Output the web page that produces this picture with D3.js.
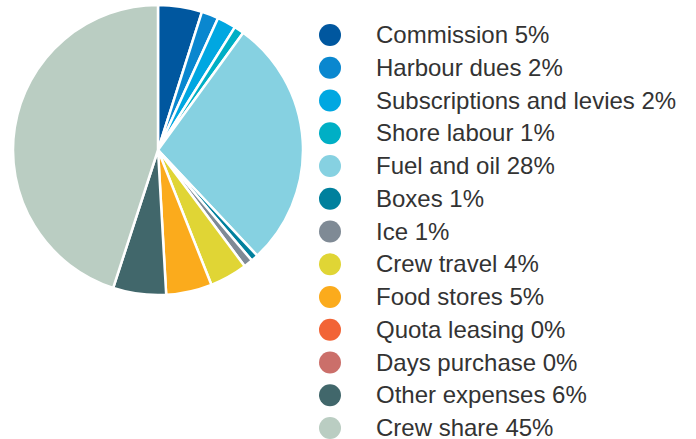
<!DOCTYPE html>
<html><head><meta charset="utf-8">
<script src="https://cdn.jsdelivr.net/npm/d3@7"></script>
<style>body{margin:0;background:#fff}svg{display:block}</style>
</head><body>
<script>
const categories = ["Commission","Harbour dues","Subscriptions and levies","Shore labour","Fuel and oil","Boxes","Ice","Crew travel","Food stores","Quota leasing","Days purchase","Other expenses","Crew share"];
const values = [4.9,1.9,2.1,1.1,28.0,0.8,1.0,4.2,5.1,0,0,5.9,45.0];
const labels = ["5%","2%","2%","1%","28%","1%","1%","4%","5%","0%","0%","6%","45%"];
const colors = ["#00579f","#0a87cf","#00a7e1","#00afc5","#86d1e1","#00809d","#7f8a95","#e0d535","#fbab1c","#f26436","#cb6f6a","#41676b","#bacdc2"];

const W=696,H=439;
const svg=d3.select("body").append("svg").attr("width",W).attr("height",H);
const data=categories.map((c,i)=>({c,v:values[i],l:labels[i],col:colors[i]}));
const pie=d3.pie().sort(null).value(d=>d.v);
const arc=d3.arc().innerRadius(0).outerRadius(145);
svg.append("g").attr("transform","translate(158,150)")
 .selectAll("path").data(pie(data).filter(d=>d.data.v>0)).join("path")
 .attr("d",arc).attr("fill",d=>d.data.col).attr("stroke","#fff").attr("stroke-width",2.5).attr("stroke-linejoin","round");

const y=d3.scalePoint().domain(categories).range([35,428]);
const lg=svg.append("g");
const row=lg.selectAll("g").data(data).join("g").attr("transform",d=>`translate(0,${y(d.c)})`);
row.append("circle").attr("cx",330).attr("r",11).attr("fill",d=>d.col);
row.append("text").attr("x",376).attr("dy","0.34em").text(d=>d.c+" "+d.l)
 .attr("font-family","'Liberation Sans', Arial, sans-serif").attr("font-size",24).attr("fill","#333");
</script>
</body></html>
